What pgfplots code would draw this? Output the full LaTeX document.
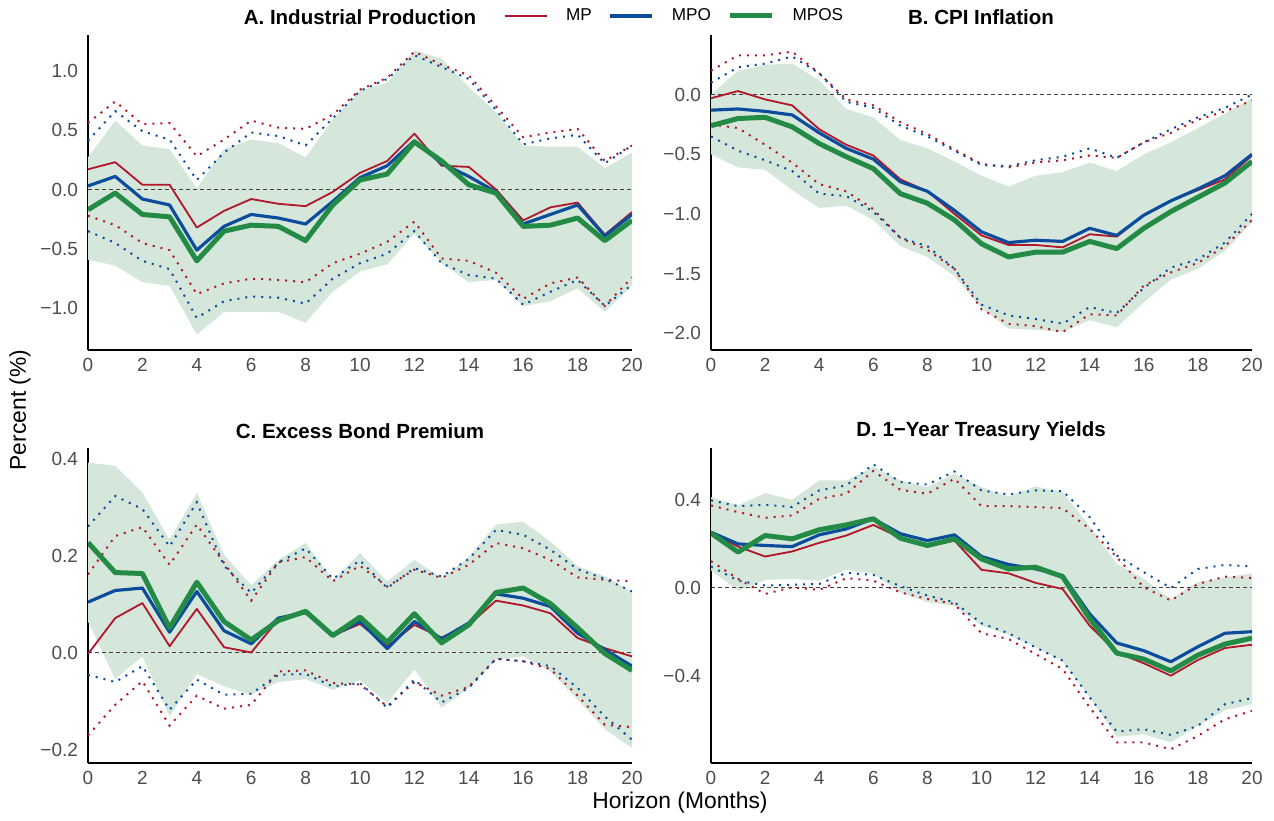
\documentclass[border=0pt]{standalone}
\usepackage{pgfplots}
\pgfplotsset{compat=1.18}
\usepackage{pgfplotstable}
\usepgfplotslibrary{fillbetween}
\usepackage{fontspec}
\setmainfont{Liberation Sans}
\definecolor{mpc}{HTML}{B2182B}
\definecolor{mpoc}{HTML}{0B4C9C}
\definecolor{mposc}{HTML}{238B45}
\definecolor{bandc}{HTML}{D4E7DA}
\definecolor{tickgray}{HTML}{4D4D4D}

\pgfplotstableread{
h lo hi mp mpo mpos mplo mphi mpolo mpohi
0 -0.59 0.27 0.17 0.03 -0.17 -0.22 0.56 -0.35 0.41
1 -0.64 0.58 0.23 0.11 -0.03 -0.30 0.74 -0.45 0.66
2 -0.78 0.37 0.04 -0.08 -0.21 -0.45 0.55 -0.60 0.49
3 -0.81 0.34 0.04 -0.13 -0.23 -0.51 0.56 -0.67 0.42
4 -1.22 0.01 -0.32 -0.51 -0.60 -0.88 0.28 -1.08 0.08
5 -1.03 0.34 -0.18 -0.31 -0.35 -0.79 0.42 -0.94 0.31
6 -1.03 0.42 -0.08 -0.21 -0.30 -0.75 0.58 -0.90 0.48
7 -1.03 0.39 -0.12 -0.24 -0.31 -0.76 0.52 -0.91 0.45
8 -1.12 0.27 -0.14 -0.29 -0.43 -0.78 0.51 -0.96 0.37
9 -0.86 0.59 -0.02 -0.10 -0.13 -0.62 0.63 -0.75 0.60
10 -0.69 0.83 0.14 0.10 0.08 -0.54 0.84 -0.62 0.83
11 -0.63 0.90 0.24 0.20 0.13 -0.44 0.94 -0.54 0.93
12 -0.37 1.17 0.47 0.41 0.40 -0.27 1.16 -0.35 1.13
13 -0.62 1.10 0.20 0.22 0.24 -0.58 1.05 -0.62 1.03
14 -0.78 0.86 0.19 0.11 0.04 -0.60 0.96 -0.72 0.93
15 -0.76 0.65 0.00 -0.02 -0.03 -0.70 0.70 -0.75 0.67
16 -0.98 0.37 -0.26 -0.29 -0.31 -0.92 0.44 -0.97 0.38
17 -0.94 0.36 -0.15 -0.21 -0.30 -0.79 0.48 -0.86 0.43
18 -0.83 0.36 -0.11 -0.13 -0.24 -0.74 0.51 -0.76 0.46
19 -1.03 0.18 -0.38 -0.39 -0.43 -0.98 0.24 -0.98 0.22
20 -0.81 0.31 -0.19 -0.21 -0.26 -0.74 0.37 -0.80 0.37
}\tabA

\pgfplotstableread{
h lo hi mp mpo mpos mplo mphi mpolo mpohi
0 -0.50 0.00 -0.03 -0.13 -0.26 -0.25 0.20 -0.35 0.10
1 -0.61 0.20 0.03 -0.12 -0.20 -0.28 0.33 -0.47 0.23
2 -0.63 0.25 -0.04 -0.14 -0.19 -0.42 0.33 -0.55 0.26
3 -0.80 0.26 -0.09 -0.17 -0.27 -0.57 0.36 -0.64 0.32
4 -0.95 0.12 -0.29 -0.32 -0.41 -0.75 0.18 -0.83 0.18
5 -0.93 -0.12 -0.42 -0.45 -0.52 -0.81 -0.04 -0.85 -0.06
6 -1.05 -0.19 -0.51 -0.54 -0.62 -0.96 -0.09 -0.98 -0.11
7 -1.27 -0.38 -0.71 -0.73 -0.83 -1.20 -0.23 -1.20 -0.26
8 -1.36 -0.45 -0.81 -0.81 -0.91 -1.30 -0.33 -1.27 -0.35
9 -1.52 -0.56 -1.00 -0.97 -1.05 -1.46 -0.46 -1.46 -0.47
10 -1.79 -0.68 -1.18 -1.15 -1.25 -1.80 -0.58 -1.76 -0.59
11 -1.96 -0.77 -1.26 -1.24 -1.36 -1.92 -0.61 -1.85 -0.60
12 -1.97 -0.68 -1.26 -1.22 -1.32 -1.94 -0.57 -1.88 -0.55
13 -1.99 -0.65 -1.28 -1.23 -1.32 -1.99 -0.55 -1.92 -0.52
14 -1.89 -0.57 -1.17 -1.12 -1.23 -1.84 -0.51 -1.78 -0.45
15 -1.95 -0.64 -1.19 -1.18 -1.29 -1.85 -0.53 -1.83 -0.53
16 -1.74 -0.50 -1.01 -1.01 -1.12 -1.60 -0.40 -1.62 -0.40
17 -1.55 -0.40 -0.89 -0.89 -0.98 -1.49 -0.32 -1.45 -0.29
18 -1.46 -0.28 -0.80 -0.79 -0.86 -1.41 -0.21 -1.38 -0.19
19 -1.31 -0.16 -0.71 -0.68 -0.74 -1.27 -0.14 -1.24 -0.11
20 -1.07 -0.03 -0.51 -0.50 -0.56 -1.05 -0.05 -1.00 0.00
}\tabB

\pgfplotstableread{
h lo hi mp mpo mpos mplo mphi mpolo mpohi
0 0.065 0.393 -0.002 0.105 0.228 -0.170 0.162 -0.045 0.261
1 -0.054 0.386 0.072 0.129 0.166 -0.107 0.241 -0.060 0.324
2 -0.007 0.331 0.103 0.134 0.164 -0.058 0.260 -0.027 0.297
3 -0.131 0.234 0.014 0.043 0.052 -0.150 0.182 -0.117 0.220
4 -0.043 0.330 0.091 0.127 0.146 -0.088 0.265 -0.055 0.311
5 -0.069 0.203 0.012 0.046 0.065 -0.115 0.186 -0.086 0.180
6 -0.086 0.140 0.001 0.019 0.027 -0.107 0.108 -0.084 0.124
7 -0.060 0.192 0.069 0.072 0.067 -0.038 0.187 -0.045 0.187
8 -0.054 0.227 0.082 0.084 0.086 -0.036 0.198 -0.043 0.216
9 -0.076 0.151 0.036 0.036 0.036 -0.062 0.148 -0.069 0.153
10 -0.056 0.206 0.060 0.065 0.074 -0.065 0.180 -0.062 0.191
11 -0.103 0.148 0.014 0.009 0.022 -0.110 0.137 -0.113 0.134
12 -0.034 0.192 0.058 0.065 0.081 -0.060 0.172 -0.055 0.175
13 -0.113 0.155 0.032 0.029 0.021 -0.088 0.155 -0.102 0.158
14 -0.072 0.198 0.058 0.062 0.058 -0.070 0.182 -0.072 0.194
15 -0.014 0.265 0.108 0.122 0.125 -0.012 0.227 -0.012 0.254
16 -0.007 0.271 0.098 0.113 0.134 -0.017 0.216 -0.017 0.244
17 -0.038 0.230 0.082 0.096 0.102 -0.033 0.192 -0.027 0.213
18 -0.096 0.179 0.031 0.041 0.052 -0.088 0.156 -0.072 0.173
19 -0.157 0.158 0.010 0.007 -0.001 -0.148 0.151 -0.131 0.153
20 -0.196 0.127 -0.007 -0.027 -0.036 -0.153 0.148 -0.179 0.127
}\tabC

\pgfplotstableread{
h lo hi mp mpo mpos mplo mphi mpolo mpohi
0 0.079 0.411 0.248 0.252 0.248 0.121 0.373 0.097 0.396
1 -0.012 0.373 0.187 0.199 0.162 0.041 0.343 0.033 0.370
2 0.036 0.429 0.142 0.192 0.237 -0.027 0.317 0.011 0.376
3 0.041 0.399 0.165 0.187 0.222 0.003 0.328 0.014 0.366
4 0.033 0.486 0.204 0.240 0.263 -0.009 0.403 0.018 0.441
5 0.082 0.486 0.237 0.267 0.285 0.044 0.426 0.068 0.464
6 0.063 0.547 0.285 0.313 0.313 0.033 0.529 0.059 0.559
7 -0.020 0.486 0.227 0.245 0.225 -0.020 0.444 0.008 0.479
8 -0.065 0.456 0.187 0.214 0.192 -0.050 0.426 -0.035 0.468
9 -0.080 0.517 0.214 0.240 0.222 -0.073 0.494 -0.065 0.527
10 -0.171 0.456 0.082 0.142 0.131 -0.205 0.370 -0.160 0.441
11 -0.211 0.414 0.066 0.106 0.086 -0.231 0.370 -0.205 0.423
12 -0.269 0.459 0.023 0.086 0.094 -0.299 0.366 -0.269 0.441
13 -0.332 0.434 -0.005 0.056 0.051 -0.367 0.361 -0.329 0.438
14 -0.495 0.278 -0.171 -0.118 -0.140 -0.541 0.267 -0.495 0.320
15 -0.674 0.109 -0.292 -0.249 -0.295 -0.699 0.139 -0.650 0.147
16 -0.662 0.041 -0.341 -0.284 -0.322 -0.699 0.003 -0.639 0.071
17 -0.699 -0.050 -0.397 -0.334 -0.375 -0.730 -0.057 -0.665 0.000
18 -0.624 0.026 -0.326 -0.266 -0.304 -0.669 0.018 -0.624 0.086
19 -0.553 0.048 -0.272 -0.205 -0.254 -0.594 0.051 -0.526 0.104
20 -0.526 0.066 -0.257 -0.198 -0.227 -0.556 0.045 -0.498 0.097
}\tabD

\pgfplotsset{
  irf/.style={
    scale only axis, width=326.4pt, height=189pt,
    anchor=south west,
    xmin=0, xmax=20,
    axis x line*=bottom, axis y line*=left,
    axis line style={black, line width=0.8pt, -},
    xtick={0,2,...,20},
    major tick length=0pt,
    tick label style={font=\fontsize{11.4}{12}\selectfont, text=tickgray},
    /pgf/number format/assume math mode=true,
    yticklabel style={xshift=-2.5pt},
    xticklabel style={yshift=-1.5pt},
  },
  dotl/.style={line width=1.2pt, dash pattern=on 1.2pt off 3.6pt, forget plot},
}

\newcommand{\irfpanel}[1]{%
  \addplot[name path=up, draw=none, forget plot] table[x=h,y=hi]{#1};
  \addplot[name path=dn, draw=none, forget plot] table[x=h,y=lo]{#1};
  \addplot[fill=bandc, draw=none, forget plot] fill between[of=up and dn];
  \addplot[black!75, line width=0.6pt, dash pattern=on 2.4pt off 1.8pt, forget plot] coordinates {(0,0) (20,0)};
  \addplot[mpc, dotl] table[x=h,y=mplo]{#1};
  \addplot[mpc, dotl] table[x=h,y=mphi]{#1};
  \addplot[mpoc, dotl] table[x=h,y=mpolo]{#1};
  \addplot[mpoc, dotl] table[x=h,y=mpohi]{#1};
  \addplot[mpc, line width=1.1pt, line join=round] table[x=h,y=mp]{#1};
  \addplot[mpoc, line width=1.9pt, line join=round] table[x=h,y=mpo]{#1};
  \addplot[mposc, line width=3pt, line join=round] table[x=h,y=mpos]{#1};
}

\begin{document}
\begin{tikzpicture}

% Panel A
\begin{axis}[irf, at={(52.8pt,282pt)},
  ymin=-1.35, ymax=1.30,
  ytick={-1,-0.5,0,0.5,1},
  yticklabels={−1.0,−0.5,0.0,0.5,1.0},
  legend columns=3,
  legend style={draw=none, fill=none, inner sep=0pt, outer sep=0pt,
    at={(axis description cs:0.7647,1.0603)}, anchor=west,
    font=\fontsize{10.3}{12}\selectfont,
    nodes={inner sep=0pt},
    /tikz/every even column/.append style={column sep=9.8pt},
    /tikz/every odd column/.append style={column sep=11.0pt}},
  legend image code/.code={\draw[#1] (0pt,0pt) -- (25.2pt,0pt);},
]
\irfpanel{\tabA}
\legend{MP,MPO,MPOS}
\end{axis}

% Panel B
\begin{axis}[irf, at={(426.6pt,282pt)}, width=324.6pt,
  ymin=-2.14, ymax=0.50,
  ytick={-2,-1.5,-1,-0.5,0},
  yticklabels={−2.0,−1.5,−1.0,−0.5,0.0},
]
\irfpanel{\tabB}
\end{axis}

% Panel C
\begin{axis}[irf, at={(52.8pt,34.2pt)},
  ymin=-0.227, ymax=0.423,
  ytick={-0.2,0,0.2,0.4},
  yticklabels={−0.2,0.0,0.2,0.4},
]
\irfpanel{\tabC}
\end{axis}

% Panel D
\begin{axis}[irf, at={(426.6pt,34.2pt)}, width=324.6pt,
  ymin=-0.792, ymax=0.633,
  ytick={-0.4,0,0.4},
  yticklabels={−0.4,0.0,0.4},
]
\irfpanel{\tabD}
\end{axis}

\node[font=\bfseries\fontsize{12.3}{13}\selectfont] at (216pt,481.8pt) {A. Industrial Production};
\node[font=\bfseries\fontsize{12.3}{13}\selectfont] at (588.6pt,481.8pt) {B. CPI Inflation};
\node[font=\bfseries\fontsize{12.3}{13}\selectfont] at (216pt,233.4pt) {C. Excess Bond Premium};
\node[font=\bfseries\fontsize{12.3}{13}\selectfont] at (588.6pt,233.4pt) {D. 1−Year Treasury Yields};
\node[font=\fontsize{13.7}{15}\selectfont, rotate=90] at (12pt,246pt) {Percent (\%)};
\node[font=\fontsize{13.7}{15}\selectfont] at (408pt,10.2pt) {Horizon (Months)};
\pgfresetboundingbox
\path (0,0) rectangle (764.4pt,492pt);
\end{tikzpicture}
\end{document}
